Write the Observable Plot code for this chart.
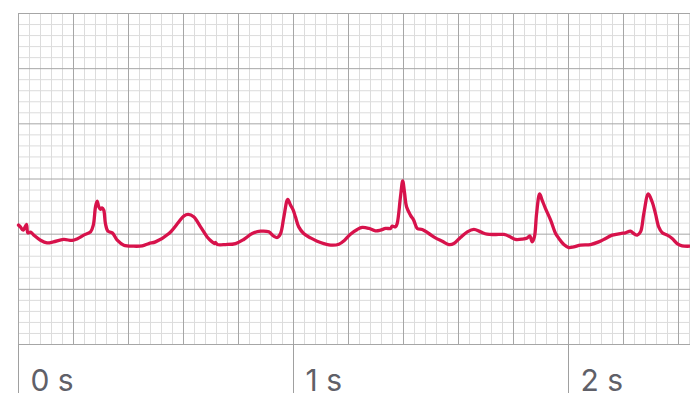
<!DOCTYPE html>
<html>
<head>
<meta charset="utf-8">
<script src="https://cdn.jsdelivr.net/npm/d3@7"></script>
<script src="https://cdn.jsdelivr.net/npm/@observablehq/plot@0.6"></script>
<style>
  html, body { margin: 0; padding: 0; background: #fff; }
  #chart svg { display: block; }
</style>
</head>
<body>
<div id="chart"></div>
<script>
// Time (s) and voltage (mV) of the ECG trace
const times = [0,0.007,0.017,0.029,0.034,0.044,0.056,0.080,0.104,0.127,0.164,0.195,0.213,0.237,0.262,0.272,0.280,0.286,0.292,0.298,0.304,0.310,0.316,0.325,0.341,0.359,0.383,0.419,0.450,0.474,
  0.498,0.547,0.583,0.601,0.617,0.637,0.662,0.686,0.704,0.713,0.716,0.723,0.753,0.789,0.819,0.850,0.880,0.910,0.928,0.941,0.953,0.965,0.979,0.989,0.999,1.007,1.019,1.037,1.062,1.086,1.110,1.141,1.165,1.183,1.207,1.232,1.250,1.274,1.298,1.316,1.335,1.353,1.359,1.371,1.377,1.389,1.397,1.404,1.411,1.425,1.437,1.450,1.468,1.492,1.516,1.541,1.565,1.583,1.607,1.632,1.656,1.680,1.704,1.735,1.765,1.789,1.807,1.832,1.850,1.859,1.868,1.876,1.884,1.895,1.904,1.916,1.935,1.953,1.965,1.983,2.001,2.019,2.044,2.080,2.110,2.135,2.159,2.189,2.207,2.225,2.237,2.250,2.262,2.274,2.290,2.304,2.316,2.328,2.341,2.359,2.377,2.395,2.413,2.444];
const volts = [1.082,1.066,1.036,1.088,1.012,1.018,0.991,0.945,0.921,0.930,0.952,0.943,0.957,0.991,1.021,1.082,1.248,1.300,1.248,1.225,1.239,1.218,1.097,1.027,1.012,0.945,0.900,0.891,0.894,0.915,
  0.930,1.006,1.112,1.164,1.179,1.157,1.066,0.975,0.930,0.915,0.925,0.906,0.906,0.915,0.952,1.006,1.027,1.021,0.982,0.970,1.006,1.157,1.315,1.264,1.218,1.157,1.066,1.006,0.966,0.936,0.915,0.900,0.909,0.939,1.000,1.043,1.061,1.052,1.030,1.036,1.052,1.052,1.073,1.066,1.097,1.339,1.482,1.370,1.248,1.173,1.127,1.052,1.043,1.006,0.966,0.936,0.906,0.915,0.970,1.021,1.043,1.021,1.000,0.997,0.997,0.975,0.952,0.955,0.966,0.985,0.930,0.975,1.188,1.364,1.309,1.234,1.127,1.006,0.961,0.906,0.879,0.885,0.900,0.906,0.930,0.961,0.991,1.006,1.012,1.027,1.006,0.991,1.021,1.188,1.364,1.294,1.188,1.066,1.012,0.991,0.961,0.915,0.894,0.891];
const secondTicks = [0, 1, 2];
const tickLabels = ["0 s", "1 s", "2 s"];

const xMax = 2.4436;
const yMax = 3;
const trace = times.map((t, i) => ({t, v: volts[i]}));
const minorX = d3.range(0, xMax + 1e-9, 0.04).filter(d => Math.abs(d / 0.2 - Math.round(d / 0.2)) > 1e-6);
const majorX = d3.range(0, xMax + 1e-9, 0.2);
const minorY = d3.range(0, yMax + 1e-9, 0.1).filter(d => Math.abs(d / 0.5 - Math.round(d / 0.5)) > 1e-6);
const majorY = d3.range(0, yMax + 1e-9, 0.5);

const chart = Plot.plot({
  width: 690,
  height: 414,
  marginLeft: 18,
  marginRight: 0,
  marginTop: 13,
  marginBottom: 70,
  style: {background: "#fff", fontFamily: "Inter, 'Noto Sans', sans-serif"},
  x: {domain: [0, xMax], axis: null},
  y: {domain: [0, yMax], axis: null},
  marks: [
    Plot.ruleX(minorX, {stroke: "#dcdcdc", strokeWidth: 1}),
    Plot.ruleY(minorY, {stroke: "#dcdcdc", strokeWidth: 1}),
    Plot.ruleX(majorX, {stroke: "#a6a6a6", strokeWidth: 1}),
    Plot.ruleY(majorY, {stroke: "#a6a6a6", strokeWidth: 1}),
    Plot.axisX({ticks: secondTicks, tickSize: 49, tickFormat: () => "", stroke: "#a0a0a0", label: null, strokeOpacity: 1}),
    Plot.text(secondTicks, {x: d => d, text: (d, i) => tickLabels[i], frameAnchor: "bottom", dy: 46, dx: 12, textAnchor: "start", lineAnchor: "bottom", fontSize: 30, fill: "#5f6068"}),
    Plot.line(trace, {x: "t", y: "v", stroke: "#d7124b", strokeWidth: 3.3, curve: "catmull-rom", strokeLinejoin: "round"})
  ]
});
document.getElementById("chart").append(chart);
</script>
</body>
</html>
